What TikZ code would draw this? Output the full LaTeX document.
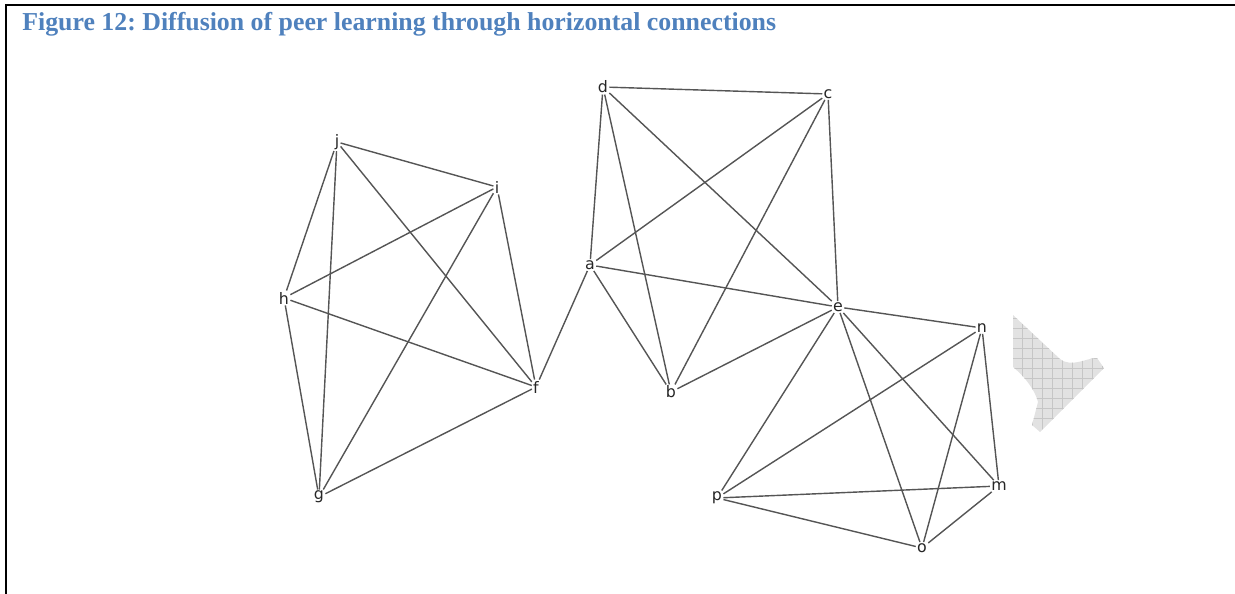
\documentclass[tikz,border=0pt]{standalone}
\usepackage{fontspec}
\setmainfont{Liberation Serif}
\newfontfamily\labelfont{DejaVu Sans}
\usetikzlibrary{positioning}
\definecolor{titleblue}{HTML}{4F81BD}
\definecolor{edgegrey}{HTML}{555555}
\definecolor{blobgrey}{HTML}{E2E2E2}
\definecolor{blobgrid}{HTML}{C6C6C6}
\frenchspacing

\begin{document}
\begin{tikzpicture}[
  x=0.02cm, y=-0.02cm,
  vlabel/.style={font=\labelfont\fontsize{9}{10}\selectfont, text=black!85, inner sep=0.6pt},
  edge/.style={draw=edgegrey, line width=0.8pt},
  frame/.style={draw=black, line width=1.3pt},
]
\useasboundingbox (0,0) rectangle (1235,594);

% page frame (left and top only) + caption
\draw[frame] (6,594) -- (6,5) -- (1235,5);
\node[font=\bfseries\fontsize{14.7}{16}\selectfont, text=titleblue, anchor=base west, inner sep=0pt]
  (title) at (22,31) {Figure 12: Diffusion of peer learning through horizontal connections};

% vertices (pixel positions of the layout)
\foreach \name/\x/\y in {
  j/337/142, i/497/187, h/284/298, f/536/387, g/319/497,
  a/590/265, d/603/87, c/828/94, e/838/307, b/671/392,
  n/982/328, m/999/486, p/717/498, o/922/548} {
  \node[vlabel] (\name) at (\x,\y) {\name};
}

% three cliques joined through f--a and e
\foreach \u/\v in {
  j/i, j/h, j/g, j/f, i/h, i/g, i/f, h/f, h/g, g/f,
  f/a,
  a/d, a/c, a/e, a/b, d/c, d/e, d/b, c/e, c/b, e/b,
  e/n, e/m, e/o, e/p, n/p, n/o, n/m, p/m, p/o, o/m} {
  \draw[edge] (\u) -- (\v);
}

% grey scrap at the right
\begin{scope}
  \clip (1013,315) -- (1060,359) .. controls (1072,368) and (1086,358) .. (1097,358)
    -- (1104,368) -- (1040,432) -- (1032,425) -- (1038,402)
    .. controls (1035,390) and (1025,377) .. (1013,367) -- cycle;
  \fill[blobgrey] (1000,300) rectangle (1110,440);
  \foreach \k in {0,...,10} {
    \draw[blobgrid, line width=0.3pt] (1012+\k*10,300) -- (1012+\k*10,440);
    \draw[blobgrid, line width=0.3pt] (1000,318+\k*10) -- (1110,318+\k*10);
  }
\end{scope}
\end{tikzpicture}
\end{document}
